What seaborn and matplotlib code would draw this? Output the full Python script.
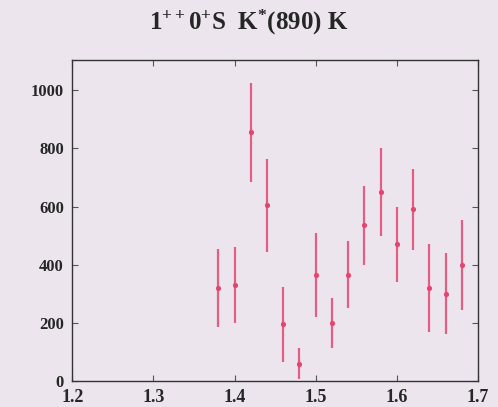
import numpy as np
import pandas as pd
import matplotlib
matplotlib.use("Agg")
import matplotlib.pyplot as plt
import seaborn as sns

# mass bins (GeV) and fitted intensity with errors
mass = [1.38, 1.40, 1.42, 1.44, 1.46, 1.48, 1.50, 1.52,
        1.54, 1.56, 1.58, 1.60, 1.62, 1.64, 1.66, 1.68]
events = [320, 330, 855, 605, 195, 60, 365, 200,
          365, 535, 650, 470, 590, 320, 300, 400]
errors = [135, 130, 170, 160, 130, 55, 145, 85,
          115, 135, 150, 130, 140, 150, 140, 155]
x_ticks = [1.2, 1.3, 1.4, 1.5, 1.6, 1.7]
y_ticks = [0, 200, 400, 600, 800, 1000]

df = pd.DataFrame({"mass": mass, "events": events, "err": errors})

bg = "#ece5ee"
red = "#e2466f"

sns.set_theme(style="ticks")
plt.rcParams["font.family"] = ["Liberation Serif", "DejaVu Serif"]
plt.rcParams["font.weight"] = "bold"
plt.rcParams["mathtext.fontset"] = "custom"
plt.rcParams["mathtext.rm"] = "Liberation Serif:bold"
plt.rcParams["mathtext.bf"] = "Liberation Serif:bold"
plt.rcParams["mathtext.it"] = "Liberation Serif:bold"

fig = plt.figure(figsize=(4.98, 4.07), dpi=100, facecolor=bg)
ax = fig.add_axes([0.145, 0.064, 0.815, 0.789])
ax.set_facecolor(bg)

ax.errorbar(df["mass"], df["events"], yerr=df["err"], fmt="none",
            ecolor=red, elinewidth=1.6, alpha=0.85, capsize=0)
sns.scatterplot(data=df, x="mass", y="events", ax=ax, color=red,
                s=14, edgecolor=red, linewidth=0, zorder=3)

ax.set_xlim(1.2, 1.7)
ax.set_ylim(0, 1105)
ax.set_xticks(x_ticks)
ax.set_xticklabels([f"{t:.1f}" for t in x_ticks], fontsize=13, fontweight="bold")
ax.set_yticks(y_ticks)
ax.set_yticklabels([str(t) for t in y_ticks], fontsize=12, fontweight="bold")
ax.tick_params(direction="in", length=4, width=0.8, color="#555555",
               top=True, right=True)
ax.tick_params(axis="x", pad=6)
ax.tick_params(axis="y", pad=6)
ax.set_xlabel("")
ax.set_ylabel("")
for sp in ax.spines.values():
    sp.set_color("#333333")
    sp.set_linewidth(1.0)

fig.text(0.5, 0.945, r"1$^{\mathrm{++}}$0$^{\mathrm{+}}$S  K$^{\mathrm{*}}$(890) K",
         ha="center", va="center", fontsize=18, fontweight="bold")

fig.savefig("out.png", dpi=100, facecolor=bg)
